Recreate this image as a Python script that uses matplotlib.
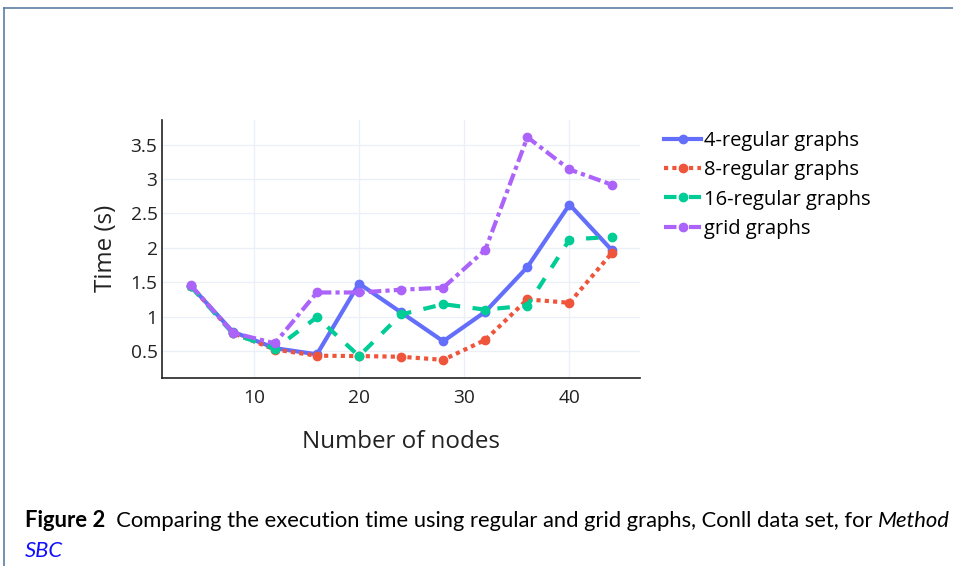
import matplotlib.pyplot as plt
from matplotlib.lines import Line2D

# data
nodes = [4, 8, 12, 16, 20, 24, 28, 32, 36, 40, 44]
time_4reg = [1.45, 0.78, 0.54, 0.45, 1.48, 1.06, 0.64, 1.07, 1.72, 2.63, 1.97]
time_8reg = [1.45, 0.76, 0.52, 0.43, 0.425, 0.415, 0.37, 0.66, 1.25, 1.20, 1.92]
time_16reg = [1.44, 0.755, 0.53, 0.99, 0.425, 1.03, 1.18, 1.10, 1.16, 2.12, 2.16]
time_grid = [1.46, 0.765, 0.61, 1.35, 1.35, 1.39, 1.42, 1.97, 3.61, 3.14, 2.92]

yticks = [0.5, 1, 1.5, 2, 2.5, 3, 3.5]
ytick_labels = ['0.5', '1', '1.5', '2', '2.5', '3', '3.5']
xticks = [10, 20, 30, 40]

plt.rcParams['font.family'] = ['Open Sans', 'DejaVu Sans']

fig = plt.figure(figsize=(9.54, 5.66), dpi=100)
W, H = 954, 566

# page box border
fig.add_artist(Line2D([4 / W, 1], [1 - 7.5 / H, 1 - 7.5 / H], color='#5b7ea6', lw=1.2))
fig.add_artist(Line2D([4 / W, 4 / W], [0, 1 - 7.5 / H], color='#5b7ea6', lw=1.2))

ax = fig.add_axes([161.7 / W, 1 - 377.7 / H, (640 - 161.7) / W, (377.7 - 120) / H])

lw = 3
ax.plot(nodes, time_4reg, color='#636efa', lw=lw, marker='o', ms=6,
        label='4-regular graphs', solid_joinstyle='round')
ax.plot(nodes, time_8reg, color='#ef553b', lw=lw, marker='o', ms=6,
        dashes=(1, 1), label='8-regular graphs')
ax.plot(nodes, time_16reg, color='#00cc96', lw=lw, marker='o', ms=6,
        dashes=(3, 3), label='16-regular graphs')
ax.plot(nodes, time_grid, color='#ab63fa', lw=lw, marker='o', ms=6,
        dashes=(3, 1, 1, 1), label='grid graphs')

ax.set_xlim(1.25, 46.7)
ax.set_ylim(0.11, 3.86)
ax.set_xticks(xticks)
ax.set_yticks(yticks)
ax.set_yticklabels(ytick_labels)
ax.grid(True, color='#ebf0f8', lw=1)
ax.set_axisbelow(True)
for s in ['top', 'right']:
    ax.spines[s].set_visible(False)
for s in ['left', 'bottom']:
    ax.spines[s].set_color('#222222')
    ax.spines[s].set_linewidth(1.2)
ax.tick_params(length=0, labelsize=13.8, colors='#222222')
ax.tick_params(axis='x', pad=8)
ax.tick_params(axis='y', pad=3)
ax.set_xlabel('Number of nodes', fontsize=17.4, color='#222222', labelpad=17)
ax.set_ylabel('Time (s)', fontsize=17.4, color='#222222', labelpad=9)

ax.legend(loc='upper left', bbox_to_anchor=(664 / W, 1 - 131 / H),
          bbox_transform=fig.transFigure, frameon=False, fontsize=14.5,
          handlelength=1.85, handletextpad=0.15, labelspacing=0.46,
          borderaxespad=0, borderpad=0)

# caption, pieces placed one after another
pieces = [('Figure 2', 'bold', 'normal', 'black'),
          ('  Comparing the execution time using regular and grid graphs, Conll data set, for ', 'normal', 'normal', 'black'),
          ('Method', 'normal', 'italic', 'black')]
cap_font = ['Lato', 'DejaVu Sans']
cap_size = 15.85
renderer = fig.canvas.get_renderer()
x = 25
y1 = 1 - 527 / H
for txt, wt, st, col in pieces:
    t = fig.text(x / W, y1, txt, fontsize=cap_size, fontweight=wt, fontstyle=st,
                 color=col, family=cap_font, va='baseline')
    x += t.get_window_extent(renderer).width
fig.text(25 / W, 1 - 557 / H, 'SBC', fontsize=cap_size, fontstyle='italic',
         color='#1010ff', family=cap_font, va='baseline')

fig.savefig('out.png', dpi=100)
